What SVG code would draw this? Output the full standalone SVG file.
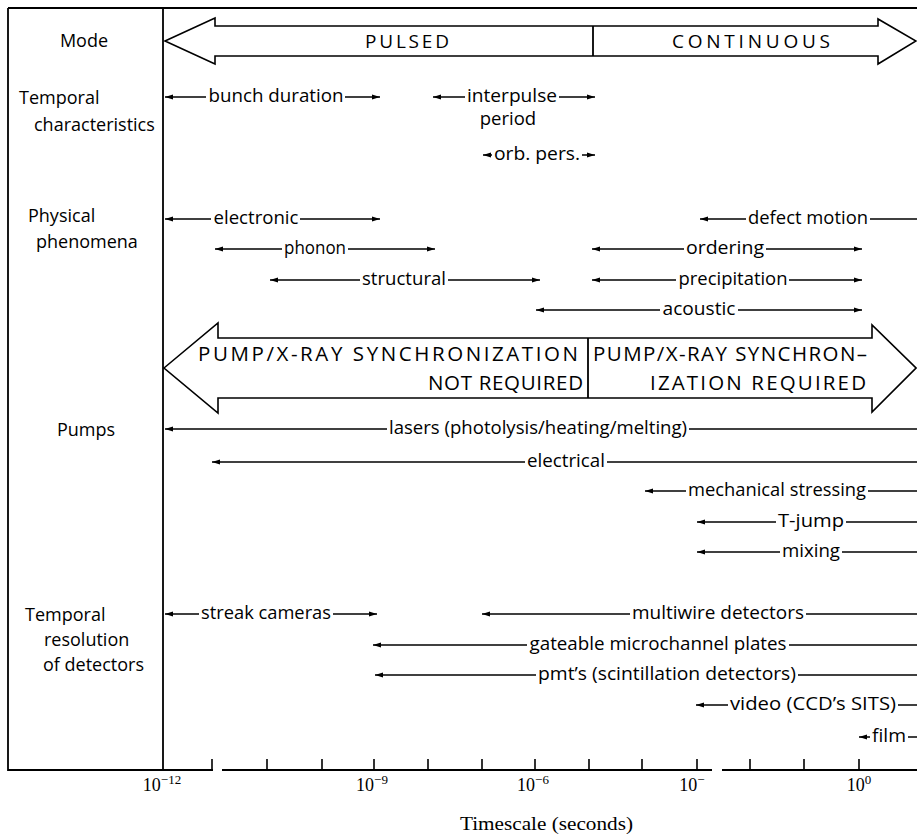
<svg xmlns="http://www.w3.org/2000/svg" width="917" height="835" viewBox="0 0 917 835">
<style>
  .frame{fill:none;stroke:#000;stroke-width:1.8}
  .tick{fill:none;stroke:#000;stroke-width:1.6}
  .big{fill:#fff;stroke:#000;stroke-width:1.6;stroke-linejoin:miter}
  .rng{fill:none;stroke:#000;stroke-width:1.5}
  .bg{fill:#fff}
  .lbl{font-family:"Open Sans","DejaVu Sans",sans-serif;font-size:18.5px;fill:#000;text-anchor:middle}
  .row{font-family:"Open Sans","DejaVu Sans",sans-serif;font-size:18px;fill:#000}
  .caps{font-family:"Open Sans","DejaVu Sans",sans-serif;font-size:19px;fill:#000}
  .caps2{font-family:"Open Sans","DejaVu Sans",sans-serif;font-size:20.5px;fill:#000}
  .ax{font-family:"Liberation Serif","Times New Roman",serif;font-size:18px;fill:#000;text-anchor:middle}
</style>
<defs>
  <marker id="ah" viewBox="0 0 8 6" refX="8" refY="3" markerWidth="8" markerHeight="6" markerUnits="userSpaceOnUse" orient="auto-start-reverse">
    <path d="M0,0.5 L8,3 L0,5.5 z" fill="#000"/>
  </marker>
</defs>
<rect width="917" height="835" fill="#fff"/>

<g id="frame">
  <path class="frame" d="M8,8 H917 M8,8 V771 M163,8 V771 M8,770 H213 M222,770 H712 M722,770 H917"/>
  <path class="tick" d="M212,759 V770 M267,759 V770 M322,759 V770 M374,759 V770 M428,759 V770 M482,759 V770 M535,759 V770 M589,759 V770 M642,759 V770 M697,759 V770 M750,759 V770 M804,759 V770 M859,759 V770"/>
</g>

<g id="axis-labels">
  <text class="ax" x="162" y="791">10<tspan dy="-7" font-size="13">−12</tspan></text>
  <text class="ax" x="372" y="791">10<tspan dy="-7" font-size="13">−9</tspan></text>
  <text class="ax" x="533" y="791">10<tspan dy="-7" font-size="13">−6</tspan></text>
  <text class="ax" x="692" y="791">10<tspan dy="-7" font-size="13">−</tspan></text>
  <text class="ax" x="859" y="791">10<tspan dy="-7" font-size="13">0</tspan></text>
  <text class="ax" x="460" y="830" style="text-anchor:start" textLength="173" lengthAdjust="spacingAndGlyphs">Timescale (seconds)</text>
</g>

<g id="row-labels">
  <text class="row" x="84" y="47" text-anchor="middle">Mode</text>
  <text class="row" x="19" y="104">Temporal</text>
  <text class="row" x="34" y="131">characteristics</text>
  <text class="row" x="28" y="222">Physical</text>
  <text class="row" x="36" y="248">phenomena</text>
  <text class="row" x="57" y="436">Pumps</text>
  <text class="row" x="25" y="621">Temporal</text>
  <text class="row" x="44" y="646">resolution</text>
  <text class="row" x="43" y="671">of detectors</text>
</g>

<g id="mode-arrow">
  <polygon class="big" points="165,41 215,18 215,26 878,26 878,19 916,41 878,64 878,56 215,56 215,64"/>
  <path class="frame" d="M593,26 V56"/>
  <text class="caps" x="365" y="48" textLength="84" lengthAdjust="spacing">PULSED</text>
  <text class="caps" x="672" y="48" textLength="158" lengthAdjust="spacing">CONTINUOUS</text>
</g>

<g id="sync-arrow">
  <polygon class="big" points="164,368 218,323 218,338 872,338 872,325 916,368 872,412 872,398 218,398 218,413"/>
  <path class="frame" d="M588,338 V398"/>
  <text class="caps2" x="198" y="361" textLength="380" lengthAdjust="spacing">PUMP/X-RAY SYNCHRONIZATION</text>
  <text class="caps2" x="428" y="390" textLength="155" lengthAdjust="spacing">NOT REQUIRED</text>
  <text class="caps2" x="593" y="361" textLength="274" lengthAdjust="spacing">PUMP/X-RAY SYNCHRON–</text>
  <text class="caps2" x="650" y="390" textLength="216" lengthAdjust="spacing">IZATION REQUIRED</text>
</g>

<g id="connectors">
  <g id="r-bunch"><line class="rng" x1="165" y1="97" x2="380" y2="97" marker-start="url(#ah)" marker-end="url(#ah)"/><rect class="bg" x="206" y="91" width="139" height="12"/><text class="lbl" x="276" y="102" textLength="135" lengthAdjust="spacingAndGlyphs">bunch duration</text></g>
  <g id="r-interpulse"><line class="rng" x1="433" y1="97" x2="595" y2="97" marker-start="url(#ah)" marker-end="url(#ah)"/><rect class="bg" x="465" y="91" width="94" height="12"/><text class="lbl" x="512" y="102" textLength="90" lengthAdjust="spacingAndGlyphs">interpulse</text><text class="lbl" x="508" y="125">period</text></g>
  <g id="r-orb"><line class="rng" x1="483" y1="155" x2="595" y2="155" marker-start="url(#ah)" marker-end="url(#ah)"/><rect class="bg" x="492" y="149" width="90" height="12"/><text class="lbl" x="537" y="160" textLength="86" lengthAdjust="spacingAndGlyphs">orb. pers.</text></g>

  <g id="r-electronic"><line class="rng" x1="165" y1="219" x2="380" y2="219" marker-start="url(#ah)" marker-end="url(#ah)"/><rect class="bg" x="211" y="213" width="89" height="12"/><text class="lbl" x="256" y="224" textLength="85" lengthAdjust="spacingAndGlyphs">electronic</text></g>
  <g id="r-phonon"><line class="rng" x1="215" y1="249" x2="435" y2="249" marker-start="url(#ah)" marker-end="url(#ah)"/><rect class="bg" x="282" y="243" width="66" height="12"/><text class="lbl" x="315" y="254" textLength="62" lengthAdjust="spacingAndGlyphs">phonon</text></g>
  <g id="r-structural"><line class="rng" x1="270" y1="280" x2="540" y2="280" marker-start="url(#ah)" marker-end="url(#ah)"/><rect class="bg" x="360" y="274" width="88" height="12"/><text class="lbl" x="404" y="285" textLength="84" lengthAdjust="spacingAndGlyphs">structural</text></g>
  <g id="r-defect"><line class="rng" x1="700" y1="219" x2="917" y2="219" marker-start="url(#ah)"/><rect class="bg" x="746" y="213" width="124" height="12"/><text class="lbl" x="808" y="224" textLength="120" lengthAdjust="spacingAndGlyphs">defect motion</text></g>
  <g id="r-ordering"><line class="rng" x1="592" y1="249" x2="862" y2="249" marker-start="url(#ah)" marker-end="url(#ah)"/><rect class="bg" x="684" y="243" width="82" height="12"/><text class="lbl" x="725" y="254" textLength="78" lengthAdjust="spacingAndGlyphs">ordering</text></g>
  <g id="r-precipitation"><line class="rng" x1="592" y1="280" x2="862" y2="280" marker-start="url(#ah)" marker-end="url(#ah)"/><rect class="bg" x="676" y="274" width="113" height="12"/><text class="lbl" x="733" y="285" textLength="109" lengthAdjust="spacingAndGlyphs">precipitation</text></g>
  <g id="r-acoustic"><line class="rng" x1="536" y1="310" x2="862" y2="310" marker-start="url(#ah)" marker-end="url(#ah)"/><rect class="bg" x="660" y="304" width="78" height="12"/><text class="lbl" x="699" y="315" textLength="73" lengthAdjust="spacingAndGlyphs">acoustic</text></g>

  <g id="r-lasers"><line class="rng" x1="165" y1="429" x2="917" y2="429" marker-start="url(#ah)"/><rect class="bg" x="387" y="423" width="302" height="12"/><text class="lbl" x="538" y="434" textLength="298" lengthAdjust="spacingAndGlyphs">lasers (photolysis/heating/melting)</text></g>
  <g id="r-electrical"><line class="rng" x1="212" y1="462" x2="917" y2="462" marker-start="url(#ah)"/><rect class="bg" x="525" y="456" width="82" height="12"/><text class="lbl" x="566" y="467" textLength="78" lengthAdjust="spacingAndGlyphs">electrical</text></g>
  <g id="r-mechanical"><line class="rng" x1="645" y1="491" x2="917" y2="491" marker-start="url(#ah)"/><rect class="bg" x="686" y="485" width="182" height="12"/><text class="lbl" x="777" y="496" textLength="178" lengthAdjust="spacingAndGlyphs">mechanical stressing</text></g>
  <g id="r-tjump"><line class="rng" x1="697" y1="522" x2="917" y2="522" marker-start="url(#ah)"/><rect class="bg" x="776" y="516" width="70" height="12"/><text class="lbl" x="811" y="527" textLength="66" lengthAdjust="spacingAndGlyphs">T-jump</text></g>
  <g id="r-mixing"><line class="rng" x1="697" y1="552" x2="917" y2="552" marker-start="url(#ah)"/><rect class="bg" x="780" y="546" width="62" height="12"/><text class="lbl" x="811" y="557" textLength="58" lengthAdjust="spacingAndGlyphs">mixing</text></g>

  <g id="r-streak"><line class="rng" x1="165" y1="614" x2="377" y2="614" marker-start="url(#ah)" marker-end="url(#ah)"/><rect class="bg" x="199" y="608" width="134" height="12"/><text class="lbl" x="266" y="619" textLength="130" lengthAdjust="spacingAndGlyphs">streak cameras</text></g>
  <g id="r-multiwire"><line class="rng" x1="482" y1="614" x2="917" y2="614" marker-start="url(#ah)"/><rect class="bg" x="630" y="608" width="176" height="12"/><text class="lbl" x="718" y="619" textLength="172" lengthAdjust="spacingAndGlyphs">multiwire detectors</text></g>
  <g id="r-gateable"><line class="rng" x1="373" y1="645" x2="917" y2="645" marker-start="url(#ah)"/><rect class="bg" x="527" y="639" width="262" height="12"/><text class="lbl" x="658" y="650" textLength="257" lengthAdjust="spacingAndGlyphs">gateable microchannel plates</text></g>
  <g id="r-pmt"><line class="rng" x1="375" y1="675" x2="917" y2="675" marker-start="url(#ah)"/><rect class="bg" x="536" y="669" width="262" height="12"/><text class="lbl" x="667" y="680" textLength="258" lengthAdjust="spacingAndGlyphs">pmt’s (scintillation detectors)</text></g>
  <g id="r-video"><line class="rng" x1="696" y1="705" x2="917" y2="705" marker-start="url(#ah)"/><rect class="bg" x="728" y="699" width="170" height="12"/><text class="lbl" x="813" y="710" textLength="166" lengthAdjust="spacingAndGlyphs">video (CCD’s SITS)</text></g>
  <g id="r-film"><line class="rng" x1="859" y1="737" x2="917" y2="737" marker-start="url(#ah)"/><rect class="bg" x="870" y="731" width="38" height="12"/><text class="lbl" x="889" y="742" textLength="34" lengthAdjust="spacingAndGlyphs">film</text></g>
</g>
</svg>
